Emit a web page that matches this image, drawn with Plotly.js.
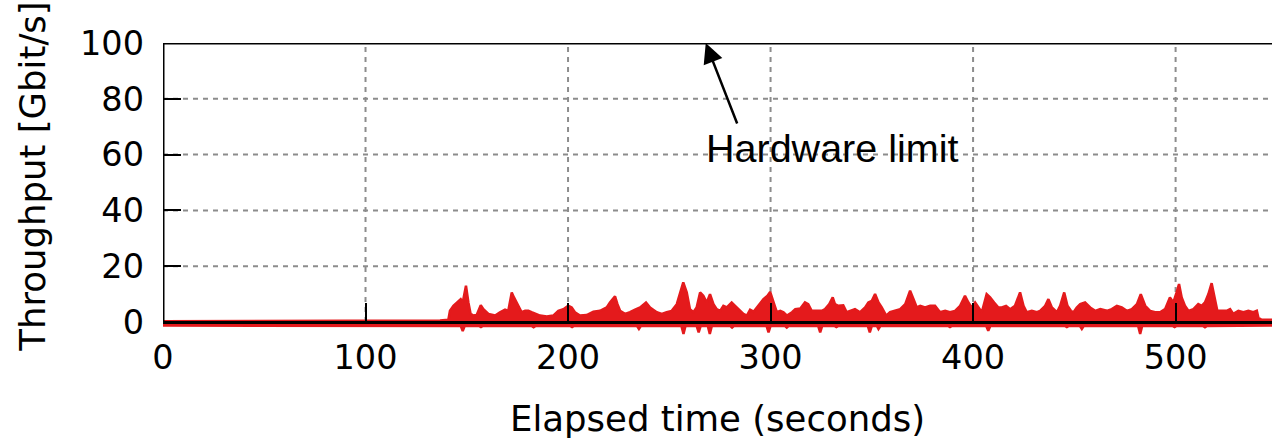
<!DOCTYPE html>
<html>
<head>
<meta charset="utf-8">
<script src="https://cdn.plot.ly/plotly-3.0.1.min.js"></script>
<style>
html,body{margin:0;padding:0;background:#fff;overflow:hidden;}
#chart{width:1272px;height:439px;}
</style>
</head>
<body>
<div id="chart"></div>
<script>
// Elapsed time (s) and upper envelope of throughput band (Gbit/s)
const timeUpper = [0, 100, 136.8, 140.9, 141.7, 143.4, 145.8, 147.0, 148.0, 149.6, 150.8, 151.9, 153.3, 154.9, 156.9, 158.2, 160.7, 164.0, 166.4, 168.9, 170.5, 172.2, 173.3, 175.5, 177.1, 178.8, 180.4, 182.0, 183.7, 186.2, 189.5, 192.7, 195.2,
  197.7, 200.1, 201.8, 203.4, 205.9, 209.2, 212.5, 215.8, 219.1, 220.7, 223.2, 224.4, 225.7, 228.1, 230.6, 233.1, 235.6, 238.5, 240.5, 243.8, 246.3, 248.7, 251.2, 253.7, 255.3,
  256.9, 258.6, 260.2, 261.9, 263.5, 265.2, 266.8, 268.5, 270.1, 271.8, 273.4, 275.1, 276.7, 278.4, 280.8, 282.5, 284.1, 286.6, 288.3, 289.9, 291.6, 294.1, 296.5, 298.5, 299.8, 301.5, 303.1, 304.8, 306.4, 308.1, 310.6, 312.2, 314.7,
  317.0, 318.6, 320.3, 322.8, 325.3, 326.9, 329.0, 330.7, 331.8, 333.5, 335.9, 337.6, 340.1, 341.7, 344.2, 346.7, 348.3, 350.0, 351.6, 353.3, 354.9, 357.1, 359.0, 361.5, 364.0, 366.5, 368.9, 370.6, 372.2, 373.9,
  376.3, 378.8, 381.2, 383.7, 386.2, 388.6, 391.1, 393.6, 396.0, 397.7, 399.3, 401.0, 402.6, 404.3, 406.7, 408.4, 410.4, 412.5, 414.2, 416.3, 418.3, 420.7, 423.2, 424.9, 426.5, 429.0, 431.5, 433.1,
  435.6, 437.2, 438.9, 441.4, 443.0, 445.0, 446.6, 448.3, 449.6, 451.2, 452.9, 455.3, 457.8, 460.3, 462.8, 466.0, 468.5, 471.0, 473.4, 475.9, 478.4, 480.9, 482.8, 485.0, 487.4, 489.9, 492.3,
  494.8, 497.2, 498.9, 500.5, 501.7, 503.0, 504.6, 506.3, 508.8, 511.2, 512.9, 514.5, 516.2, 517.8, 519.5, 520.6, 522.8, 525.2, 526.9, 528.5, 531.0, 533.5, 535.9, 538.4, 540.1, 540.9, 542.5, 547.6];
const upperGbps = [0.3, 0.3, 0.5, 0.8, 4.0, 5.8, 7.6, 8.2, 7.0, 13.0, 7.0, 2.9, 2.3, 2.5, 6.0, 4.6, 2.9, 2.3, 3.5, 4.4, 4.0, 10.6, 8.8, 5.8, 3.5, 4.0, 4.0, 3.5, 2.9, 2.3, 2.0, 2.3, 4.0,
  4.6, 5.8, 5.2, 3.5, 2.3, 2.5, 3.7, 4.0, 5.2, 7.0, 9.2, 6.4, 4.0, 2.9, 3.5, 4.4, 5.2, 7.0, 5.2, 3.5, 2.9, 3.5, 4.0, 6.4, 10.6,
  14.2, 10.6, 4.6, 3.5, 5.2, 10.6, 9.4, 7.0, 10.0, 6.4, 4.6, 4.0, 5.8, 5.2, 7.0, 5.8, 4.6, 2.9, 2.3, 4.4, 3.7, 5.8, 8.2, 9.4, 10.8, 7.0, 3.5, 4.0, 3.5, 2.3, 3.5, 4.6, 4.8,
  7.0, 6.4, 4.0, 4.0, 4.0, 4.6, 6.4, 8.8, 6.4, 5.8, 6.0, 3.5, 4.0, 4.6, 3.5, 5.2, 7.0, 7.6, 10.0, 7.0, 5.2, 2.3, 3.5, 4.0, 4.6, 6.4, 11.2, 8.2, 5.2, 5.8,
  5.2, 5.8, 5.8, 3.5, 4.0, 3.5, 4.0, 5.8, 9.4, 7.0, 5.2, 7.0, 5.2, 3.5, 10.0, 8.8, 7.0, 5.2, 5.2, 5.8, 4.6, 5.8, 10.6, 5.8, 3.5, 4.0, 3.5, 4.0,
  5.8, 8.2, 5.2, 3.5, 5.8, 10.6, 5.8, 4.0, 3.5, 5.2, 6.4, 7.0, 5.2, 4.0, 4.6, 4.0, 4.6, 5.8, 5.2, 4.0, 4.6, 6.4, 10.0, 5.8, 4.0, 3.5, 3.5,
  4.6, 8.8, 7.0, 10.6, 13.6, 8.8, 5.8, 4.0, 4.6, 6.4, 5.8, 7.0, 10.0, 13.9, 7.0, 4.0, 4.0, 4.0, 4.6, 2.9, 4.0, 3.5, 4.0, 3.5, 4.0, 1.5, 0.8, 0.8];
// Lower envelope of the band (Gbit/s)
const timeLower = [0, 140, 147, 148, 149, 156, 157, 158, 182, 183, 184, 201, 202, 203, 234, 235, 236, 256, 257, 258, 263.5, 264.5, 265.5, 269, 270, 271, 280, 281, 282, 298, 299, 300, 307, 308, 309, 323.5, 324.5, 325.5, 331.5, 332.5, 333.5, 348, 349, 350, 352.5, 353.3, 354.3, 387.6, 388.6, 389.6, 406.5, 407.5, 408.5, 445.3, 446.3, 447.3, 452.7, 453.7, 454.7, 481.5, 482.5, 483.5, 498.5, 499.5, 500.5, 513.5, 514.5, 515.5, 540, 547.6];
const lowerGbps = [-1.3, -1.3, -1.4, -3.2, -1.4, -1.4, -1.8, -1.4, -1.4, -1.9, -1.4, -1.4, -1.8, -1.4, -1.4, -2.5, -1.4, -1.4, -4.3, -1.4, -1.4, -3.7, -1.4, -1.4, -4.3, -1.4, -1.4, -2.0, -1.4, -1.4, -3.7, -1.4, -1.4, -2.0, -1.4, -1.4, -3.7, -1.4, -1.4, -1.8, -1.4, -1.4, -3.7, -1.4, -1.4, -2.5, -1.4, -1.4, -1.8, -1.4, -1.4, -3.1, -1.4, -1.4, -1.8, -1.4, -1.4, -2.5, -1.4, -1.4, -4.3, -1.4, -1.4, -1.8, -1.4, -1.4, -1.9, -1.4, -1.3, -1.3];

const xTicks = [0, 100, 200, 300, 400, 500];
const yTicks = [0, 20, 40, 60, 80, 100];
const xMax = 547.6;
const yMin = -5.38;
const annotationText = 'Hardware limit';
const limitPoint = [268, 100];

const red = '#e41a1c';
const traces = [
  {x: timeLower, y: lowerGbps, type: 'scatter', mode: 'lines', line: {color: red, width: 2.5}, hoverinfo: 'skip', showlegend: false},
  {x: timeUpper, y: upperGbps, type: 'scatter', mode: 'lines', fill: 'tonexty', fillcolor: red, line: {color: red, width: 2.5}, hoverinfo: 'skip', showlegend: false}
];

const gridStyle = {color: '#8c8c8c', width: 2, dash: '5px,5px'};
const shapes = [];
xTicks.filter(v => v > 0).forEach(v => shapes.push({type: 'line', xref: 'x', yref: 'y', x0: v, x1: v, y0: 0, y1: 100, line: gridStyle, layer: 'below'}));
yTicks.filter(v => v > 0 && v < 100).forEach(v => shapes.push({type: 'line', xref: 'paper', yref: 'y', x0: 0, x1: 1, y0: v, y1: v, line: gridStyle, layer: 'below'}));
// frame: left axis line and top border
shapes.push({type: 'line', xref: 'x', yref: 'y', x0: 0, x1: 0, y0: 0, y1: 100, line: {color: '#000', width: 3}, layer: 'above'});
shapes.push({type: 'line', xref: 'paper', yref: 'y', x0: 0, x1: 1, y0: 100, y1: 100, line: {color: '#000', width: 3}, layer: 'above'});

const tickFont = {family: 'DejaVu Sans', size: 33.5, color: '#000'};
const layout = {
  width: 1272, height: 439,
  margin: {l: 163, r: 0, t: 43, b: 102, pad: 0},
  paper_bgcolor: '#fff', plot_bgcolor: '#fff',
  showlegend: false,
  xaxis: {
    range: [0, xMax], tickvals: xTicks, ticktext: xTicks.map(String),
    anchor: 'free', position: (-yMin) / (100 - yMin),
    ticks: 'inside', ticklen: 18, tickwidth: 2, tickcolor: '#000',
    showline: true, linecolor: '#000', linewidth: 3.5,
    showgrid: false, zeroline: false, tickfont: tickFont, ticklabelstandoff: 4,
    title: {text: 'Elapsed time (seconds)', font: {family: 'DejaVu Sans', size: 35.5, color: '#000'}, standoff: 35},
    automargin: false, layer: 'above traces'
  },
  yaxis: {
    range: [yMin, 100], tickvals: yTicks, ticktext: yTicks.map(String),
    ticks: 'inside', ticklen: 18, tickwidth: 2, tickcolor: '#000',
    showline: false, showgrid: false, zeroline: false,
    tickfont: tickFont, ticklabelstandoff: 18,
    automargin: false, layer: 'above traces'
  },
  shapes: shapes,
  annotations: [
    {x: limitPoint[0], y: limitPoint[1], xref: 'x', yref: 'y', text: '', showarrow: true,
     arrowhead: 2, arrowsize: 1.6, arrowwidth: 2.5, arrowcolor: '#000', ax: 32, ay: 82, axref: 'pixel', ayref: 'pixel'},
    {x: 267, y: 62.4, xref: 'x', yref: 'y', text: annotationText, showarrow: false, xanchor: 'left', yanchor: 'middle',
     font: {family: 'Liberation Sans', size: 39.5, color: '#000'}},
    {x: 0, y: 0.545, xref: 'paper', yref: 'paper', xshift: -130, text: 'Throughput [Gbit/s]', textangle: -90,
     showarrow: false, xanchor: 'center', yanchor: 'middle', font: {family: 'DejaVu Sans', size: 35.5, color: '#000'}}
  ]
};
Plotly.newPlot('chart', traces, layout, {displayModeBar: false, staticPlot: true});
</script>
</body>
</html>
